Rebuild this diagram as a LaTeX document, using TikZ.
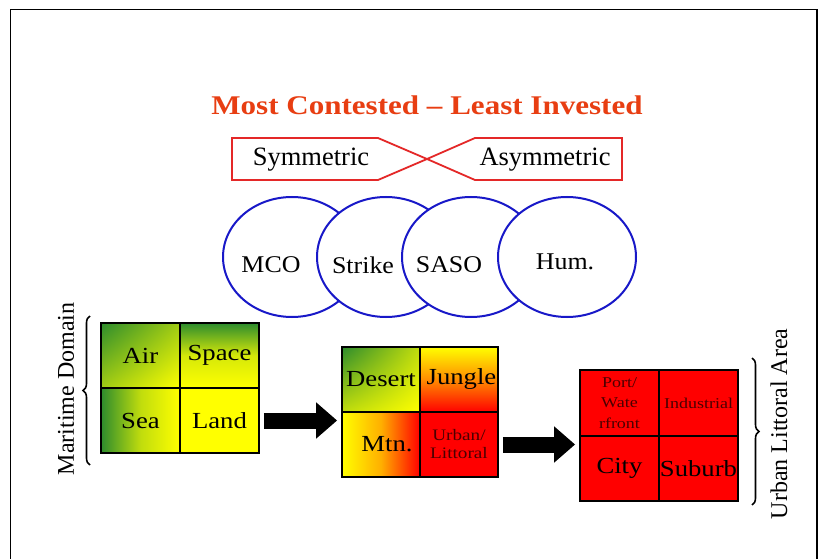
\documentclass[tikz,border=0pt]{standalone}
\usepackage{fontspec}
\usepackage{graphicx}
\setmainfont{Liberation Serif}
\usetikzlibrary{arrows.meta,shadings,shapes.geometric,decorations.pathreplacing}
\definecolor{titlered}{RGB}{232,62,18}
\definecolor{xred}{RGB}{228,40,40}
\definecolor{eblue}{RGB}{24,24,200}
\definecolor{ggreen}{RGB}{45,140,45}
\definecolor{yyellow}{RGB}{255,255,0}
\definecolor{rred}{RGB}{255,0,0}
\definecolor{oorange}{RGB}{255,140,0}
\definecolor{darktext}{RGB}{75,0,0}
\newcommand{\hs}[2]{\scalebox{#1}[1]{#2}}
\begin{document}
\begin{tikzpicture}[x=1pt,y=-1pt,
  frame/.style={draw=black, line width=1.8pt},
  cell/.style={draw=black, line width=1.8pt, inner sep=0pt, minimum width=79pt, minimum height=65pt, font=\fontsize{23}{25}\selectfont},
  midcell/.style={cell, minimum width=78pt},
  oval/.style={ellipse, draw=eblue, line width=2pt, fill=white, minimum width=138pt, minimum height=120pt, inner sep=0pt},
  olbl/.style={font=\fontsize{24}{26}\selectfont, inner sep=0pt},
  xshape/.style={draw=xred, line width=1.8pt},
  xlbl/.style={font=\fontsize{26.5}{28}\selectfont, inner sep=0pt},
  small/.style={font=\fontsize{16}{18}\selectfont, text=darktext, align=center, inner sep=0pt},
  tiny/.style={font=\fontsize{15}{20.5}\selectfont, text=darktext, align=center, inner sep=0pt},
  blockarrow/.style={line width=16pt, -{Triangle[width=35pt,length=21pt]}, shorten <=4pt, shorten >=4pt},
  bracestyle/.style={draw=black, line width=1.6pt, decorate, decoration={brace, amplitude=7pt}},
  sidelbl/.style={font=\fontsize{24}{26}\selectfont, rotate=90, inner sep=0pt}
]
\useasboundingbox (0,0) rectangle (825,559);
\fill[white] (0,0) rectangle (825,559);
% outer frame
\draw[frame] (10.5,570) -- (10.5,9.5) -- (817,9.5) -- (817,570);

% title
\node[font=\fontsize{27}{30}\selectfont\bfseries, text=titlered, inner sep=0pt] (title) at (427,105) {\hs{1.15}{Most Contested -- Least Invested}};

% symmetric / asymmetric
\coordinate (xc) at (427,159);
\draw[xshape] (232,138) -- (378,138) -- (xc) -- (378,180) -- (232,180) -- cycle;
\draw[xshape] (xc) -- (475,138) -- (622,138) -- (622,180) -- (475,180) -- cycle;
\node[xlbl] (sym) at (311,160) {Symmetric};
\node[xlbl] (asym) at (545,160) {Asymmetric};

% ellipses
\node[oval] (mco) at (292,257) {};
\node[oval] (strike) at (386,257) {};
\node[oval] (saso) at (471,257) {};
\node[oval] (hum) at (567,257) {};
\node[olbl] (mcot) at (271,265) {\hs{1.08}{MCO}};
\node[olbl] (striket) at (363,265) {\hs{1.08}{Strike}};
\node[olbl] (sasot) at (449,265) {\hs{1.08}{SASO}};
\node[olbl] (humt) at (565,262) {\hs{1.08}{Hum.}};

% left grid
\node[cell, upper left=ggreen, lower right=yyellow, upper right=yyellow!55!ggreen, lower left=yyellow!55!ggreen] (air) at (140.5,355.5) {\hs{1.16}{Air}};
\node[cell, top color=ggreen, bottom color=yyellow, middle color=yyellow!80!ggreen] (space) at (219.5,355.5) {\hs{1.16}{Space}};
\node[cell, left color=ggreen, right color=yyellow, middle color=yyellow!70!ggreen] (sea) at (140.5,420.5) {\hs{1.16}{Sea}};
\node[cell, fill=yyellow] (land) at (219.5,420.5) {\hs{1.16}{Land}};

% middle grid
\node[midcell, upper left=ggreen, lower right=yyellow, upper right=yyellow!70!ggreen, lower left=yyellow!70!ggreen] (desert) at (381,379.5) {\hs{1.16}{Desert}};
\node[midcell, top color=yyellow, bottom color=rred, middle color=oorange] (jungle) at (459,379.5) {\hspace*{5pt}\hs{1.16}{Jungle}};
\node[midcell, left color=yyellow, right color=rred, middle color=oorange!70!yyellow] (mtn) at (381,444.5) {\hspace*{12pt}\hs{1.16}{Mtn.}};
\node[midcell, fill=rred, small] (urban) at (459,444.5) {\hs{1.2}{Urban/}\\\hs{1.2}{Littoral}};

% right grid
\node[cell, fill=rred, minimum height=66pt, tiny] (port) at (619.5,403) {\hs{1.2}{Port/}\\\hs{1.2}{Wate}\\\hs{1.2}{rfront}};
\node[cell, fill=rred, minimum height=66pt, tiny] (indus) at (698.5,403) {\hs{1.2}{Industrial}};
\node[cell, fill=rred, minimum height=65pt] (city) at (619.5,468.5) {\hs{1.16}{City}};
\node[cell, fill=rred, minimum height=65pt] (suburb) at (698.5,468.5) {\hs{1.16}{Suburb}};

% block arrows
\draw[blockarrow] (land.east) -- (land.east -| mtn.west);
\draw[blockarrow] (urban.east) -- (urban.east -| city.west);

% braces and side labels
\coordinate (lbtop) at (90,316);
\coordinate (lbbot) at (90,465);
\draw[bracestyle] (lbbot) -- (lbtop);
\node[sidelbl] (mar) at (66,389) {Maritime Domain};
\coordinate (rbtop) at (752,358);
\coordinate (rbbot) at (752,505);
\draw[bracestyle] (rbtop) -- (rbbot);
\node[sidelbl] (ula) at (779,424) {Urban Littoral Area};
\end{tikzpicture}
\end{document}
